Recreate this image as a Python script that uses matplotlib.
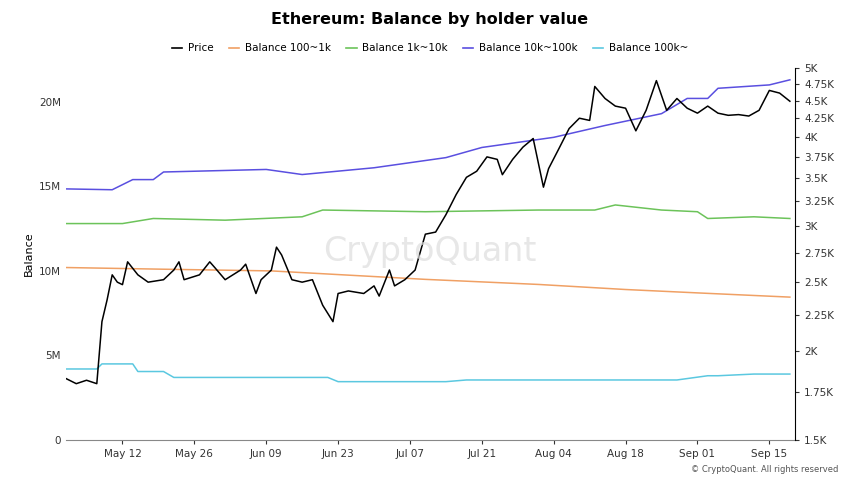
import matplotlib.pyplot as plt
import matplotlib.dates as mdates
import matplotlib.ticker as mticker
import numpy as np
import pandas as pd

# price (USD)
price_dates = ["2025-05-01","2025-05-03","2025-05-05","2025-05-07","2025-05-08","2025-05-09","2025-05-10","2025-05-11",
    "2025-05-12","2025-05-13","2025-05-15","2025-05-17","2025-05-20","2025-05-22","2025-05-23","2025-05-24",
    "2025-05-27","2025-05-29","2025-05-30","2025-06-01","2025-06-04","2025-06-05","2025-06-07","2025-06-08",
    "2025-06-10","2025-06-11","2025-06-12","2025-06-14","2025-06-16","2025-06-18","2025-06-20","2025-06-22",
    "2025-06-23","2025-06-25","2025-06-28","2025-06-30","2025-07-01","2025-07-03","2025-07-04","2025-07-06",
    "2025-07-08","2025-07-10","2025-07-12","2025-07-14","2025-07-16","2025-07-18","2025-07-20","2025-07-22",
    "2025-07-24","2025-07-25","2025-07-27","2025-07-29","2025-07-31","2025-08-02","2025-08-03","2025-08-05",
    "2025-08-07","2025-08-09","2025-08-11","2025-08-12","2025-08-14","2025-08-16","2025-08-18","2025-08-20",
    "2025-08-22","2025-08-24","2025-08-26","2025-08-28","2025-08-30","2025-09-01","2025-09-03","2025-09-05",
    "2025-09-07","2025-09-09","2025-09-11","2025-09-13","2025-09-15","2025-09-17","2025-09-19"]
price = [1830, 1800, 1820, 1800, 2200, 2360, 2560, 2500,
    2480, 2670, 2560, 2500, 2520, 2600, 2670, 2520,
    2560, 2670, 2620, 2520, 2600, 2650, 2410, 2520,
    2600, 2800, 2730, 2520, 2500, 2520, 2320, 2200,
    2410, 2430, 2410, 2470, 2390, 2600, 2470, 2520,
    2600, 2920, 2940, 3110, 3320, 3510, 3580, 3750,
    3720, 3540, 3720, 3870, 3980, 3400, 3610, 3850,
    4110, 4250, 4220, 4710, 4530, 4420, 4390, 4080,
    4360, 4800, 4360, 4530, 4390, 4320, 4420, 4320,
    4290, 4300, 4280, 4360, 4650, 4610, 4490]

b100_dates = ["2025-05-01","2025-05-20","2025-06-10","2025-07-10","2025-08-01","2025-08-18","2025-09-01","2025-09-19"]
b100 = [10.2e6, 10.1e6, 10.0e6, 9.5e6, 9.2e6, 8.9e6, 8.7e6, 8.45e6]

b1k_dates = ["2025-05-01","2025-05-12","2025-05-18","2025-06-01","2025-06-16","2025-06-20","2025-07-10","2025-08-01",
    "2025-08-12","2025-08-16","2025-08-25","2025-09-01","2025-09-03","2025-09-12","2025-09-19"]
b1k = [12.8e6, 12.8e6, 13.1e6, 13.0e6, 13.2e6, 13.6e6, 13.5e6, 13.6e6,
    13.6e6, 13.9e6, 13.6e6, 13.5e6, 13.1e6, 13.2e6, 13.1e6]

b10k_dates = ["2025-05-01","2025-05-10","2025-05-14","2025-05-18","2025-05-20","2025-06-09","2025-06-16","2025-06-30",
    "2025-07-14","2025-07-21","2025-08-04","2025-08-14","2025-08-25","2025-08-30","2025-09-03","2025-09-05",
    "2025-09-15","2025-09-19"]
b10k = [14.85e6, 14.8e6, 15.4e6, 15.4e6, 15.85e6, 16.0e6, 15.7e6, 16.1e6,
    16.7e6, 17.3e6, 17.9e6, 18.6e6, 19.3e6, 20.2e6, 20.2e6, 20.8e6,
    21.0e6, 21.3e6]

b100k_dates = ["2025-05-01","2025-05-07","2025-05-08","2025-05-14","2025-05-15","2025-05-20","2025-05-22","2025-06-21",
    "2025-06-23","2025-07-14","2025-07-18","2025-08-25","2025-08-28","2025-09-03","2025-09-05","2025-09-12","2025-09-19"]
b100k = [4.2e6, 4.2e6, 4.5e6, 4.5e6, 4.05e6, 4.05e6, 3.7e6, 3.7e6,
    3.45e6, 3.45e6, 3.55e6, 3.55e6, 3.55e6, 3.8e6, 3.8e6, 3.9e6, 3.9e6]

fig = plt.figure(figsize=(8.6, 4.84), dpi=100)
ax = fig.add_axes([66/860, 1-440/484, (795-66)/860, (440-68)/484])
ax2 = ax.twinx()

ax.plot(pd.to_datetime(b100_dates), b100, color="#f0a064", lw=1.1)
ax.plot(pd.to_datetime(b1k_dates), b1k, color="#6cc35a", lw=1.1)
ax.plot(pd.to_datetime(b10k_dates), b10k, color="#5a4fe0", lw=1.1)
ax.plot(pd.to_datetime(b100k_dates), b100k, color="#5bc8e0", lw=1.1)
ax2.plot(pd.to_datetime(price_dates), price, color="black", lw=1.1)

ax.set_ylim(0, 22e6)
ax.set_yticks([0, 5e6, 10e6, 15e6, 20e6])
ax.set_yticklabels(["0", "5M", "10M", "15M", "20M"])
ax.set_ylabel("Balance", fontsize=8)
ax.set_xlim(pd.Timestamp("2025-05-01"), pd.Timestamp("2025-09-20"))
ax.set_xticks(pd.date_range("2025-05-12", periods=10, freq="14D"))
ax.xaxis.set_major_formatter(mdates.DateFormatter("%b %d"))

ax2.set_yscale("log")
ax2.set_ylim(1500, 5000)
rt = [1500, 1750, 2000, 2250, 2500, 2750, 3000, 3250, 3500, 3750, 4000, 4250, 4500, 4750, 5000]
rl = ["1.5K", "1.75K", "2K", "2.25K", "2.5K", "2.75K", "3K", "3.25K", "3.5K", "3.75K", "4K", "4.25K", "4.5K", "4.75K", "5K"]
ax2.yaxis.set_major_locator(mticker.FixedLocator(rt))
ax2.yaxis.set_minor_locator(mticker.NullLocator())
ax2.set_yticklabels(rl)

for a in (ax, ax2):
    a.tick_params(labelsize=7.5, colors="#333333", length=3)
    for s in ("top", "left"):
        a.spines[s].set_visible(False)
ax2.spines["bottom"].set_visible(False)
ax.spines["right"].set_visible(False)
ax.spines["bottom"].set_color("#888888")
ax.tick_params(axis="y", length=0)
ax2.spines["right"].set_color("black")

fig.text(0.5, 0.95, "Ethereum: Balance by holder value", ha="center", fontsize=11.5, fontweight="bold")
labels = ["Price", "Balance 100~1k", "Balance 1k~10k", "Balance 10k~100k", "Balance 100k~"]
cols = ["black", "#f0a064", "#6cc35a", "#5a4fe0", "#5bc8e0"]
handles = [plt.Line2D([], [], color=c, lw=1.2) for c in cols]
fig.legend(handles, labels, loc="center", bbox_to_anchor=(0.5, 0.9), ncol=5, frameon=False,
           fontsize=7.5, handlelength=1.0, columnspacing=1.5, handletextpad=0.5)
fig.text(0.5, 0.48, "CryptoQuant", ha="center", va="center", fontsize=24, color="#dddddd", alpha=0.7)
fig.text(0.975, 0.025, "© CryptoQuant. All rights reserved", ha="right", fontsize=6, color="#555555")

fig.savefig("out.png", dpi=100)
